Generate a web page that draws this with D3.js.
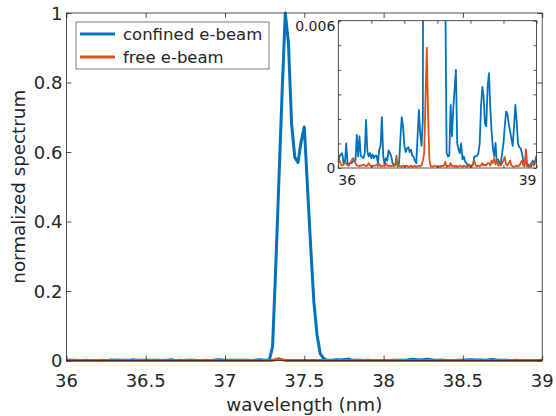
<!DOCTYPE html>
<html>
<head>
<meta charset="utf-8">
<script src="https://cdn.jsdelivr.net/npm/d3@7"></script>
<style>
body { margin: 0; background: #fff; }
text { font-family: "DejaVu Sans", sans-serif; fill: #262626; }
</style>
</head>
<body>
<div id="chart"></div>
<script>
// sample grid (nm), step 0.02
var wavelength = d3.range(151).map(function(i) { return +(36 + 0.02 * i).toFixed(2); });

var confined = [
    0.0002, 0.0005, 0.00055, 0.0006, 0.0002, 0.0002, 0.001, 0.0002, 0.00014, 0.0002,
    0.0002, 0.00025, 0.00034, 0.0003, 0.00135, 0.00047, 0.0013, 0.0005, 0.00045, 0.0004,
    0.0006, 0.00196, 0.00068, 0.00047, 0.00061, 0.0004, 0.00055, 0.0004, 0.0005, 0.0005,
    0.0002, 0.00075, 0.0009, 0.00207, 0.0005, 0.00014, 0.0004, 0.0003, 0.00072, 0.0006,
    0.0005, 0.0002, 0.00014, 0.00014, 0.0002, 0.0001, 0.0002, 0.0012, 0.00207, 0.0017,
    0.0009, 0.00065, 0.0008, 0.00085, 0.00065, 0.00075, 0.0005, 0.00045, 0.0003, 0.0002,
    0.0013, 0.00237, 0.0014, 0.0009, 0.002, 0.04, 0.27, 0.52, 0.77, 1.0,
    0.913, 0.68, 0.585, 0.57, 0.63, 0.672, 0.5, 0.33, 0.17, 0.075,
    0.02, 0.007, 0.0006, 0.00047, 0.0005, 0.00257, 0.00129, 0.0024, 0.0032, 0.004,
    0.001, 0.00075, 0.0006, 0.001, 0.00035, 0.00047, 0.00025, 0.0002, 0.00007, 0.00014,
    0.00007, 0.00007, 0.00014, 0.00047, 0.00047, 0.0005, 0.0006, 0.001, 0.0025, 0.0033,
    0.0029, 0.0018, 0.0017, 0.0033, 0.00386, 0.0025, 0.0015, 0.0008, 0.00047, 0.00102,
    0.0002, 0.00034, 0.0002, 0.0002, 0.0006, 0.001, 0.0017, 0.0023, 0.0022, 0.0018,
    0.0015, 0.0012, 0.0009, 0.0017, 0.00257, 0.0019, 0.001, 0.00085, 0.0008, 0.0006,
    0.0003, 0.0002, 0.00034, 0.00007, 0.00014, 0.00007, 0.00007, 0.0003, 0.00014, 0.0003,
    0.0005
];

var free = [
    0.0004, 0.0003, 0.00015, 0.0001, 0.00014, 0.0002, 0.0002, 0.0001, 0.0001, 0.0002,
    0.0003, 0.0004, 0.00035, 0.0002, 0.0001, 0.0001, 0.00007, 0.0001, 0.0001, 0.00014,
    0.0001, 0.00007, 0.0001, 0.0002, 0.0001, 0.00007, 0.00007, 0.0001, 0.0001, 0.00014,
    0.00007, 0.00017, 0.00007, 0.00007, 0.0001, 0.00007, 0.0002, 0.0001, 0.00007, 0.0001,
    0.00007, 0.0001, 0.00007, 0.0001, 0.0005, 0.00005, 0.0001, 0.00007, 0.00005, 0.0001,
    0.00007, 0.00007, 0.0001, 0.00005, 0.00007, 0.0001, 0.00005, 0.00007, 0.0001, 0.00005,
    0.00007, 0.0001, 0.00007, 0.0001, 0.0003, 0.0006, 0.0028, 0.0049, 0.002, 0.0003,
    0.00007, 0.00005, 0.00007, 0.0001, 0.00007, 0.00005, 0.00007, 0.00005, 0.0001, 0.00007,
    0.0001, 0.00025, 0.00005, 0.0001, 0.00007, 0.0002, 0.00007, 0.0001, 0.00005, 0.0001,
    0.00005, 0.00007, 0.0001, 0.00007, 0.00005, 0.0001, 0.00007, 0.00005, 0.00007, 0.0001,
    0.00005, 0.00007, 0.0002, 0.0003, 0.0001, 0.00007, 0.0001, 0.00007, 0.0001, 0.0002,
    0.0001, 0.00014, 0.0001, 0.0002, 0.0002, 0.0001, 0.0003, 0.0002, 0.0004, 0.00015,
    0.00035, 0.0001, 0.00014, 0.0001, 0.0002, 0.0003, 0.00045, 0.00015, 0.0001, 0.0002,
    0.0003, 0.0001, 0.00007, 0.00005, 0.00007, 0.0001, 0.00007, 0.0001, 0.0002, 0.0003,
    0.0001, 0.00007, 0.00077, 0.0001, 0.00005, 0.00007, 0.0002, 0.0002, 0.0001, 0.0002,
    0.00035
];

var seriesNames = ['confined e-beam', 'free e-beam'];
var seriesColors = ['#0072BD', '#D95319'];
var xTicks = [36, 36.5, 37, 37.5, 38, 38.5, 39];
var yTicks = [0, 0.2, 0.4, 0.6, 0.8, 1];
var insetYTicks = [0, 0.001, 0.002, 0.003, 0.004, 0.005, 0.006];
var insetYLabels = [0, 0.006];
var insetXLabels = [36, 39];

var W = 556, H = 416,
    main = {left: 66.4, right: 542.2, top: 13, bottom: 360.5},
    ins = {left: 338.3, right: 536.5, top: 20.7, bottom: 168},
    axisColor = '#262626';

var svg = d3.select('#chart').append('svg').attr('width', W).attr('height', H);

var series = [confined, free].map(function(vals, k) {
    return {name: seriesNames[k], color: seriesColors[k],
        points: vals.map(function(v, i) { return [wavelength[i], v]; })};
});

// ---- main axes
var x = d3.scaleLinear().domain([36, 39]).range([main.left, main.right]);
var y = d3.scaleLinear().domain([0, 1]).range([main.bottom, main.top]);

function boxAxes(g, xs, ys, xt, yt, len) {
    g.append('g').attr('transform', 'translate(0,' + ys.range()[0] + ')')
        .call(d3.axisTop(xs).tickValues(xt).tickSize(len).tickFormat(''));
    g.append('g').attr('transform', 'translate(0,' + ys.range()[1] + ')')
        .call(d3.axisBottom(xs).tickValues(xt).tickSize(len).tickFormat(''));
    g.append('g').attr('transform', 'translate(' + xs.range()[0] + ',0)')
        .call(d3.axisRight(ys).tickValues(yt).tickSize(len).tickFormat(''));
    g.append('g').attr('transform', 'translate(' + xs.range()[1] + ',0)')
        .call(d3.axisLeft(ys).tickValues(yt).tickSize(len).tickFormat(''));
    g.selectAll('.domain').remove();
    g.selectAll('line').attr('stroke', axisColor).attr('stroke-width', 0.8);
    g.append('rect')
        .attr('x', xs.range()[0]).attr('y', ys.range()[1])
        .attr('width', xs.range()[1] - xs.range()[0])
        .attr('height', ys.range()[0] - ys.range()[1])
        .attr('fill', 'none').attr('stroke', axisColor).attr('stroke-width', 0.8);
}

var lineMain = d3.line().x(function(d) { return x(d[0]); }).y(function(d) { return y(d[1]); });

svg.append('g').selectAll('path').data(series).enter().append('path')
    .attr('d', function(d) { return lineMain(d.points); })
    .attr('fill', 'none')
    .attr('stroke', function(d) { return d.color; })
    .attr('stroke-width', 3)
    .attr('stroke-linejoin', 'round');

boxAxes(svg.append('g'), x, y, xTicks, yTicks, 5);

svg.append('g').selectAll('text').data(xTicks).enter().append('text')
    .attr('x', function(d) { return x(d); })
    .attr('y', 387)
    .attr('text-anchor', 'middle')
    .style('font-size', '18px')
    .text(function(d) { return d; });

svg.append('g').selectAll('text').data(yTicks).enter().append('text')
    .attr('x', main.left - 4)
    .attr('y', function(d) { return y(d) + 6.5; })
    .attr('text-anchor', 'end')
    .style('font-size', '18px')
    .text(function(d) { return d; });

svg.append('text')
    .attr('x', (main.left + main.right) / 2).attr('y', 411)
    .attr('text-anchor', 'middle').style('font-size', '18.3px')
    .text('wavelength (nm)');

svg.append('text')
    .attr('transform', 'translate(25,' + ((main.top + main.bottom) / 2) + ') rotate(-90)')
    .attr('text-anchor', 'middle').style('font-size', '18.3px')
    .text('normalized spectrum');

// ---- legend
var leg = svg.append('g');
leg.append('rect').attr('x', 76).attr('y', 22).attr('width', 193).attr('height', 47)
    .attr('fill', '#fff').attr('stroke', axisColor).attr('stroke-width', 0.6);
series.forEach(function(s, k) {
    var ly = 34 + 23 * k;
    leg.append('line').attr('x1', 80).attr('x2', 115).attr('y1', ly).attr('y2', ly)
        .attr('stroke', s.color).attr('stroke-width', 3);
    leg.append('text').attr('x', 123).attr('y', ly + 6)
        .style('font-size', '16.5px').text(s.name);
});

// ---- inset
var xi = d3.scaleLinear().domain([36, 39]).range([ins.left, ins.right]);
var yi = d3.scaleLinear().domain([0, 0.006]).range([ins.bottom, ins.top]);

svg.append('rect').attr('x', ins.left).attr('y', ins.top)
    .attr('width', ins.right - ins.left).attr('height', ins.bottom - ins.top)
    .attr('fill', '#fff');

svg.append('clipPath').attr('id', 'insclip').append('rect')
    .attr('x', ins.left).attr('y', ins.top)
    .attr('width', ins.right - ins.left).attr('height', ins.bottom - ins.top);

var lineIns = d3.line().x(function(d) { return xi(d[0]); }).y(function(d) { return yi(d[1]); });

svg.append('g').attr('clip-path', 'url(#insclip)')
    .selectAll('path').data(series).enter().append('path')
    .attr('d', function(d) { return lineIns(d.points); })
    .attr('fill', 'none')
    .attr('stroke', function(d) { return d.color; })
    .attr('stroke-width', 1.8)
    .attr('stroke-linejoin', 'round');

boxAxes(svg.append('g'), xi, yi, xTicks, insetYTicks, 3);

svg.append('g').selectAll('text').data(insetXLabels).enter().append('text')
    .attr('x', function(d) { return xi(d); })
    .attr('y', ins.bottom + 17)
    .attr('text-anchor', function(d, i) { return i ? 'end' : 'start'; })
    .style('font-size', '14px')
    .text(function(d) { return d; });

svg.append('g').selectAll('text').data(insetYLabels).enter().append('text')
    .attr('x', ins.left - 3)
    .attr('y', function(d, i) { return yi(d) + (i ? 10 : 5); })
    .attr('text-anchor', 'end')
    .style('font-size', '14px')
    .text(function(d) { return d; });
</script>
</body>
</html>
